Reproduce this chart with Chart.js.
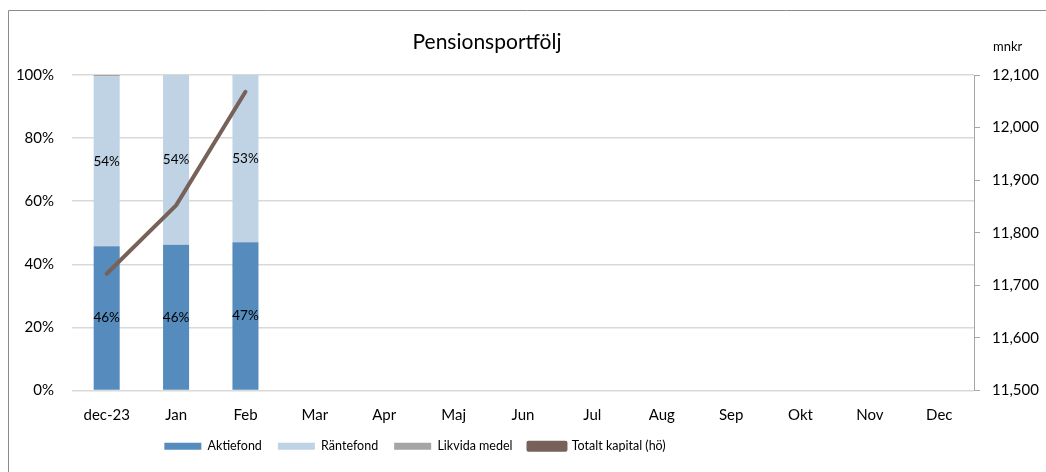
<!DOCTYPE html>
<html>
<head>
<meta charset="utf-8">
<script src="https://cdn.jsdelivr.net/npm/chart.js@4.4.0/dist/chart.umd.min.js"></script>
<style>
html,body{margin:0;padding:0;background:#fff;}
#wrap{width:1046px;height:472px;position:relative;}
</style>
</head>
<body>
<div id="wrap"><canvas id="c" width="1046" height="472"></canvas></div>
<script>
const categories = ['dec-23','Jan','Feb','Mar','Apr','Maj','Jun','Jul','Aug','Sep','Okt','Nov','Dec'];
const aktiefond = [45.7, 46.2, 47.0, null, null, null, null, null, null, null, null, null, null];
const rantefond = [53.8, 53.8, 53.0, null, null, null, null, null, null, null, null, null, null];
const likvida   = [0.5, 0, 0, null, null, null, null, null, null, null, null, null, null];
const totaltKapital = [11722, 11852, 12068, null, null, null, null, null, null, null, null, null, null];
const leftTicks = [0, 20, 40, 60, 80, 100];
const rightTicks = [11500, 11600, 11700, 11800, 11900, 12000, 12100];

const FONT = 'Lato, "Open Sans", sans-serif';

const decorPlugin = {
  id: 'decor',
  afterLayout(chart) {
    const lg = chart.legend;
    if (!lg) return;
    const dy = 424 - lg.top;
    lg.top += dy; lg.bottom += dy;
    const dx = -108;
    lg.left += dx; lg.right += dx;
  },
  afterDraw(chart) {
    const ctx = chart.ctx;
    ctx.save();
    ctx.strokeStyle = '#8c8c8c';
    ctx.lineWidth = 1;
    ctx.beginPath();
    ctx.moveTo(8.5, 472);
    ctx.lineTo(8.5, 10.5);
    ctx.lineTo(1046, 10.5);
    ctx.stroke();
    ctx.fillStyle = '#000';
    ctx.font = '21px ' + FONT;
    ctx.textAlign = 'center';
    ctx.textBaseline = 'middle';
    ctx.fillText('Pensionsportfölj', 487, 42);
    ctx.font = '13px ' + FONT;
    ctx.textAlign = 'left';
    ctx.fillText('mnkr', 993, 47);
    ctx.font = '13.5px ' + FONT;
    ctx.textAlign = 'center';
    ctx.textBaseline = 'middle';
    [0, 1].forEach(di => {
      const meta = chart.getDatasetMeta(di);
      const data = chart.data.datasets[di].data;
      meta.data.forEach((el, i) => {
        const v = data[i];
        if (v == null || v < 1) return;
        const cy = (el.y + el.base) / 2;
        ctx.fillText(Math.round(v) + '%', el.x, cy);
      });
    });
    ctx.restore();
  }
};

new Chart(document.getElementById('c'), {
  data: {
    labels: categories,
    datasets: [
      { type: 'bar', label: 'Aktiefond', data: aktiefond, backgroundColor: '#558bbd', yAxisID: 'y', stack: 's', order: 2, categoryPercentage: 1, barPercentage: 0.375 },
      { type: 'bar', label: 'Räntefond', data: rantefond, backgroundColor: '#c0d3e5', yAxisID: 'y', stack: 's', order: 2, categoryPercentage: 1, barPercentage: 0.375 },
      { type: 'bar', label: 'Likvida medel', data: likvida, backgroundColor: '#a5a5a5', yAxisID: 'y', stack: 's', order: 2, categoryPercentage: 1, barPercentage: 0.375 },
      { type: 'line', label: 'Totalt kapital (hö)', data: totaltKapital, borderColor: '#77625a', backgroundColor: '#77625a', borderWidth: 4, pointRadius: 0, tension: 0, yAxisID: 'y1', order: 1, borderCapStyle: 'round', borderJoinStyle: 'round' }
    ]
  },
  options: {
    responsive: false,
    animation: false,
    events: [],
    layout: { padding: { top: 75, left: 0, right: 0, bottom: 7 } },
    plugins: {
      title: { display: false },
      tooltip: { enabled: false },
      legend: {
        position: 'bottom',
        labels: {
          font: { family: FONT, size: 12.5 },
          color: '#000',
          boxWidth: 37,
          boxHeight: 7,
          padding: 16,
          sort: (a, b) => a.datasetIndex - b.datasetIndex
        }
      }
    },
    scales: {
      x: {
        stacked: true,
        grid: { display: false, drawTicks: false },
        border: { display: false },
        ticks: { font: { family: FONT, size: 15 }, color: '#000', padding: 16, maxRotation: 0, autoSkip: false },
        afterFit(s) { s.height = 36; }
      },
      y: {
        stacked: true,
        position: 'left',
        min: 0, max: 100,
        afterBuildTicks(s) { s.ticks = leftTicks.map(v => ({ value: v })); },
        grid: { color: '#d9d9d9', lineWidth: 1.5, drawTicks: false },
        border: { display: false },
        ticks: { font: { family: FONT, size: 15 }, color: '#000', padding: 18, callback: v => v + '%' },
        afterFit(s) { s.width = 72; }
      },
      y1: {
        position: 'right',
        min: 11500, max: 12100,
        afterBuildTicks(s) { s.ticks = rightTicks.map(v => ({ value: v })); },
        grid: { drawOnChartArea: false, color: '#a6a6a6', tickLength: 6, lineWidth: 1 },
        border: { display: true, color: '#a6a6a6', width: 1 },
        ticks: { font: { family: FONT, size: 15 }, color: '#000', padding: 12, callback: v => v.toLocaleString('en-US') },
        afterFit(s) { s.width = 72; }
      }
    }
  },
  plugins: [decorPlugin]
});
</script>
</body>
</html>
